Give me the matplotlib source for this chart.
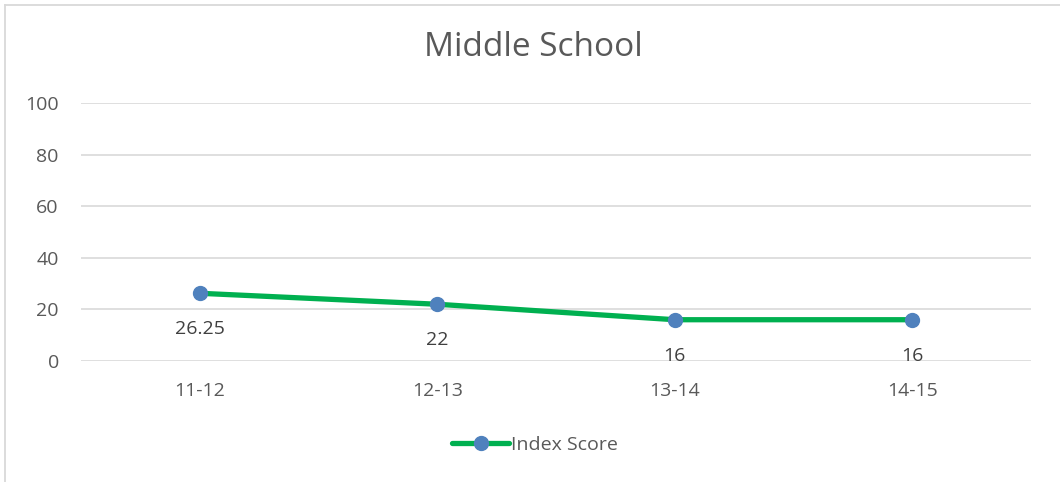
import matplotlib
matplotlib.use("Agg")
import matplotlib.pyplot as plt
from matplotlib.lines import Line2D

categories = ["11-12", "12-13", "13-14", "14-15"]
index_score = [26.25, 22, 16, 16]
label_texts = ["26.25", "22", "16", "16"]
yticks = [0, 20, 40, 60, 80, 100]

plt.rcParams['font.family'] = ['Open Sans', 'DejaVu Sans']

W, H = 1060, 482
fig = plt.figure(figsize=(W/100, H/100), dpi=100)
fig.patch.set_facecolor("white")
# chart frame: only top and left edges visible in the reference crop
fig.lines.append(Line2D([4.5/W, 4.5/W], [0, 1 - 4.5/H], transform=fig.transFigure,
                        color="#D9D9D9", linewidth=1.3))
fig.lines.append(Line2D([4.5/W, 1], [1 - 4.5/H, 1 - 4.5/H], transform=fig.transFigure,
                        color="#D9D9D9", linewidth=1.3))

left, right = 81/W, 1031/W
top, bottom = 1 - 103/H, 1 - 361/H
ax = fig.add_axes([left, bottom, right - left, top - bottom])
x = list(range(len(categories)))
ax.plot(x, index_score, color="#00B050", linewidth=3.8, marker="o", markersize=10,
        markerfacecolor="#4F81BD", markeredgecolor="#4F81BD", label="Index Score",
        solid_capstyle="round", zorder=3)
for xi, v, t in zip(x, index_score, label_texts):
    ax.annotate(t, (xi, v), xytext=(0, -26), textcoords="offset points",
                ha="center", va="center", fontsize=14, color="#404040")

ax.set_xlim(-0.5, len(categories) - 0.5)
ax.set_ylim(0, 100)
ax.set_yticks(yticks)
ax.set_xticks(x)
ax.set_xticklabels(categories)
ax.grid(axis="y", color="#D9D9D9", linewidth=1.2)
ax.set_axisbelow(True)
for s in ax.spines.values():
    s.set_visible(False)
ax.tick_params(axis="both", length=0, labelsize=14, labelcolor="#595959")
ax.tick_params(axis="x", pad=15)
ax.tick_params(axis="y", pad=16)

fig.text(533/W, 1 - 48/H, "Middle School", ha="center", va="center", fontsize=24, color="#595959")

leg = fig.legend(loc="center", bbox_to_anchor=(535/W, 1 - 445/H), frameon=False,
                 fontsize=14, labelcolor="#595959", handlelength=2.9, handletextpad=0.1)

fig.savefig("out.png", dpi=100, facecolor="white")
